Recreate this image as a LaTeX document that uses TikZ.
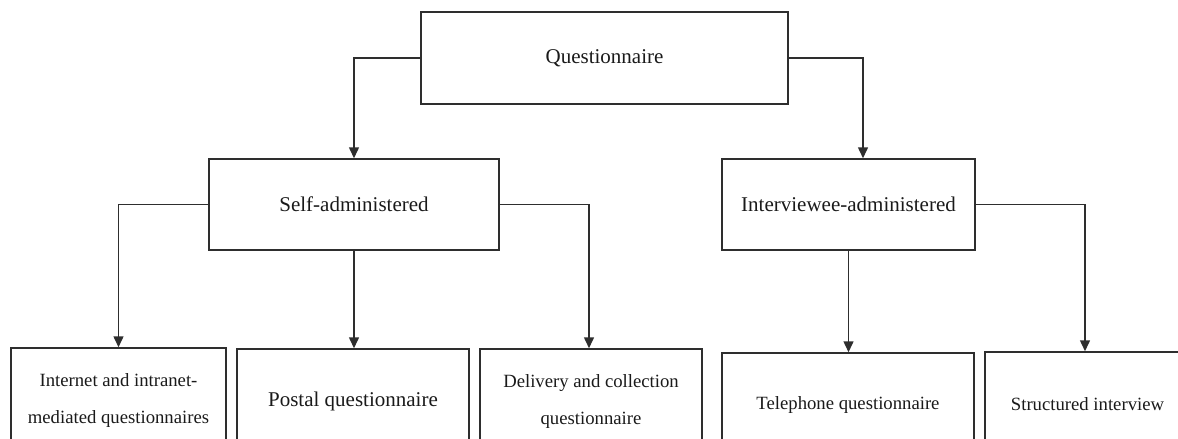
\documentclass[tikz,border=0pt]{standalone}
\usepackage{fontspec}
\setmainfont{Liberation Serif}
\usetikzlibrary{arrows.meta}
\definecolor{linegray}{HTML}{2E2E2E}
\definecolor{inkgray}{HTML}{1A1A1A}
\begin{document}
\begin{tikzpicture}[x=1pt,y=-1pt,
  box/.style={draw=linegray, line width=1.5pt, inner sep=0pt, align=center, text=inkgray},
  big/.style={font=\fontsize{21}{25}\selectfont},
  small/.style={font=\fontsize{18.7}{37}\selectfont},
  link/.style={draw=linegray, line width=1.5pt, -{Triangle[length=11pt,width=10pt]}}]
\useasboundingbox (0,0) rectangle (1178,439);
\begin{scope}
\clip (0,0) rectangle (1178,439);
% top level
\node[box, big, minimum width=367, minimum height=92] (Q) at (604.5,58) {Questionnaire};
% second level
\node[box, big, minimum width=290, minimum height=91] (S) at (354,204.5) {Self-administered};
\node[box, big, minimum width=253, minimum height=91] (I) at (848.5,204.5) {Interviewee-administered};
% leaves (they run past the lower edge)
\node[box, small, minimum width=215, minimum height=104] (L1) at (118.5,400) {Internet and intranet-\\mediated questionnaires};
\node[box, big, minimum width=232, minimum height=104] (L2) at (353,401) {Postal questionnaire};
\node[box, small, minimum width=222, minimum height=104] (L3) at (591,401) {Delivery and collection\\questionnaire};
\node[box, small, minimum width=252, minimum height=104] (L4) at (848,405) {Telephone questionnaire};
\node[box, small, minimum width=205, minimum height=104] (L5) at (1087.5,404) {Structured interview};
% connectors
\draw[link] (Q.west) -| (S.north);
\draw[link] (Q.east) -| ([xshift=14.5pt]I.north);
\draw[link] (S.west) -| (L1.north);
\draw[link] (S.south) -- (S.south |- L2.north);
\draw[link] (S.east) -| ([xshift=-2pt]L3.north);
\draw[link] (I.south) -- (I.south |- L4.north);
\draw[link] (I.east) -| ([xshift=-2.5pt]L5.north);
\end{scope}
\end{tikzpicture}
\end{document}
